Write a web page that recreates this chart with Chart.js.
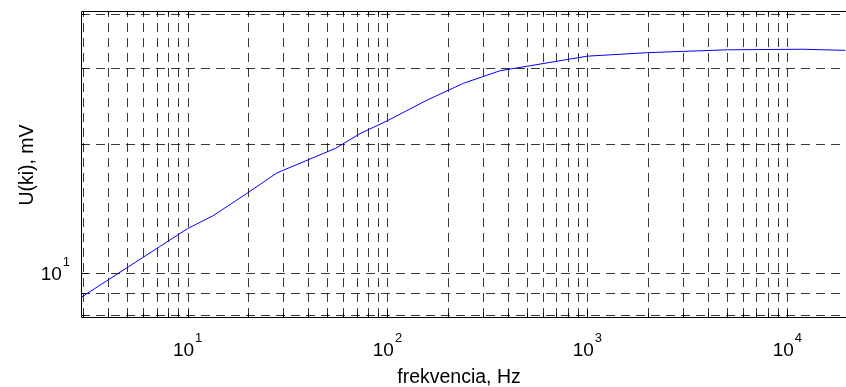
<!DOCTYPE html>
<html>
<head>
<meta charset="utf-8">
<script src="https://cdn.jsdelivr.net/npm/chart.js@4/dist/chart.umd.min.js"></script>
<style>
  html, body { margin: 0; padding: 0; background: #fff; overflow: hidden; }
</style>
</head>
<body>
<canvas id="plot" width="846" height="387"></canvas>
<script>
// frequency (Hz) and output voltage (mV)
const freq = [2.94, 10, 13.4, 19.7, 28, 55, 73, 100, 157, 240, 365, 515, 1000, 2000, 5000, 12000, 19500];
const uki  = [8.8, 12.7, 13.6, 15.3, 17.1, 19.5, 21.1, 22.6, 25.2, 27.6, 29.5, 30.3, 31.9, 32.5, 33.0, 33.1, 32.9];

// log grid positions and labelled decades
const xGrid = [3,4,5,6,7,8,9, 10,20,30,40,50,60,70,80,90, 100,200,300,400,500,600,700,800,900,
               1000,2000,3000,4000,5000,6000,7000,8000,9000, 10000];
const yGrid = [8, 9, 10, 20, 30, 40];
const xDecades = [[10,'1'], [100,'2'], [1000,'3'], [10000,'4']];
const yDecades = [[10,'1']];
const xTitle = 'frekvencia, Hz';
const yTitle = 'U(ki), mV';

const FONT = 'Arial, "Liberation Sans", sans-serif';

function powLabel(ctx, text, exp, x, y, align) {
  ctx.font = '19px ' + FONT;
  const w1 = ctx.measureText(text).width;
  ctx.font = '13px ' + FONT;
  const w2 = ctx.measureText(exp).width;
  let x0 = align === 'center' ? x - (w1 + w2 + 1) / 2 : x - (w1 + w2 + 1);
  ctx.textAlign = 'left';
  ctx.textBaseline = 'alphabetic';
  ctx.font = '19px ' + FONT;
  ctx.fillText(text, x0, y);
  ctx.font = '13px ' + FONT;
  ctx.fillText(exp, x0 + w1 + 1, y - 14);
}

const matlabAxes = {
  id: 'matlabAxes',
  beforeDatasetsDraw(chart) {
    const {ctx, chartArea: a, scales: {x, y}} = chart;
    ctx.save();
    ctx.strokeStyle = 'rgba(0,0,0,0.78)';
    ctx.lineWidth = 1;
    ctx.setLineDash([9, 6]);
    xGrid.forEach(v => {
      const px = Math.round(x.getPixelForValue(v)) + 0.5;
      ctx.beginPath(); ctx.moveTo(px, a.bottom); ctx.lineTo(px, a.top); ctx.stroke();
    });
    yGrid.forEach(v => {
      const py = Math.round(y.getPixelForValue(v)) + 0.5;
      ctx.beginPath(); ctx.moveTo(a.left, py); ctx.lineTo(a.right, py); ctx.stroke();
    });
    ctx.restore();
  },
  afterDatasetsDraw(chart) {
    const {ctx, chartArea: a, scales: {x, y}} = chart;
    ctx.save();
    ctx.strokeStyle = '#000';
    ctx.lineWidth = 1;
    // inward tick marks
    ctx.beginPath();
    xGrid.forEach(v => {
      const px = Math.round(x.getPixelForValue(v)) + 0.5;
      const len = xDecades.some(d => d[0] === v) ? 7 : 4;
      ctx.moveTo(px, a.bottom); ctx.lineTo(px, a.bottom - len);
      ctx.moveTo(px, a.top); ctx.lineTo(px, a.top + len);
    });
    yGrid.forEach(v => {
      const py = Math.round(y.getPixelForValue(v)) + 0.5;
      const len = v === 10 ? 7 : 4;
      ctx.moveTo(a.left, py); ctx.lineTo(a.left + len, py);
    });
    ctx.stroke();
    // box (right side lies off the picture)
    ctx.beginPath();
    ctx.moveTo(a.right, a.top + 0.5);
    ctx.lineTo(a.left + 0.5, a.top + 0.5);
    ctx.lineTo(a.left + 0.5, a.bottom + 0.5);
    ctx.lineTo(a.right, a.bottom + 0.5);
    ctx.stroke();

    ctx.fillStyle = '#000';
    xDecades.forEach(([v, e]) => powLabel(ctx, '10', e, x.getPixelForValue(v), 356, 'center'));
    yDecades.forEach(([v, e]) => powLabel(ctx, '10', e, 70, y.getPixelForValue(v) + 7, 'right'));

    ctx.font = '19.5px ' + FONT;
    ctx.textAlign = 'center';
    ctx.textBaseline = 'alphabetic';
    ctx.fillText(xTitle, 459, 383);
    ctx.translate(33, 165);
    ctx.rotate(-Math.PI / 2);
    ctx.fillText(yTitle, 0, 0);
    ctx.restore();
  }
};

new Chart(document.getElementById('plot'), {
  type: 'scatter',
  data: {
    datasets: [{
      data: freq.map((f, i) => ({x: f, y: uki[i]})),
      showLine: true,
      borderColor: '#0000ff',
      borderWidth: 1,
      pointRadius: 0,
      tension: 0
    }]
  },
  options: {
    responsive: false,
    animation: false,
    layout: { padding: { left: 81, top: 11, right: 0, bottom: 70 } },
    plugins: { legend: { display: false }, tooltip: { enabled: false } },
    scales: {
      x: { type: 'logarithmic', min: 2.93, max: 19660, display: false },
      y: { type: 'logarithmic', min: 7.92, max: 40.6, display: false }
    }
  },
  plugins: [matlabAxes]
});
</script>
</body>
</html>
